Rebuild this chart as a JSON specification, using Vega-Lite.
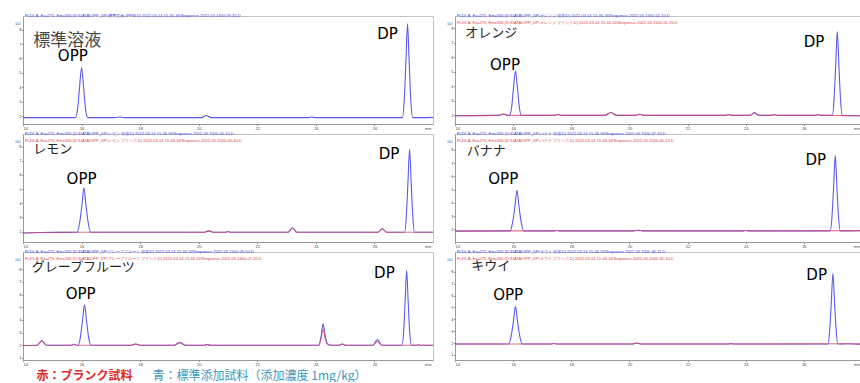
{
"$schema": "https://vega.github.io/schema/vega-lite/v6.json",
"padding": {"left": 14, "top": 13, "right": 0, "bottom": 0},
"background": "white",
"spacing": 0,
"datasets": {
"trace": [
{"p":1,"s":"b","t":14,"v":1.9},{"p":1,"s":"b","t":15.79,"v":1.9},{"p":1,"s":"b","t":15.87,"v":2.59},{"p":1,"s":"b","t":15.93,"v":3.98},{"p":1,"s":"b","t":16.0,"v":5.37},{"p":1,"s":"b","t":16.07,"v":3.98},{"p":1,"s":"b","t":16.13,"v":2.59},{"p":1,"s":"b","t":16.21,"v":1.9},{"p":1,"s":"b","t":17.15,"v":1.9},{"p":1,"s":"b","t":17.3,"v":1.95},{"p":1,"s":"b","t":17.45,"v":1.9},{"p":1,"s":"b","t":20.1,"v":1.9},{"p":1,"s":"b","t":20.26,"v":2.05},{"p":1,"s":"b","t":20.42,"v":1.9},{"p":1,"s":"b","t":23.7,"v":1.9},{"p":1,"s":"b","t":23.85,"v":1.94},{"p":1,"s":"b","t":24.0,"v":1.9},{"p":1,"s":"b","t":26.96,"v":1.9},{"p":1,"s":"b","t":27.02,"v":3.2},{"p":1,"s":"b","t":27.075,"v":5.8},{"p":1,"s":"b","t":27.13,"v":8.4},{"p":1,"s":"b","t":27.185,"v":5.8},{"p":1,"s":"b","t":27.24,"v":3.2},{"p":1,"s":"b","t":27.3,"v":1.9},{"p":1,"s":"b","t":28,"v":1.92},

{"p":2,"s":"b","t":14,"v":1.98},{"p":2,"s":"b","t":15.5,"v":2.0},{"p":2,"s":"b","t":15.68,"v":2.1},{"p":2,"s":"b","t":15.82,"v":2.0},{"p":2,"s":"b","t":15.87,"v":2.0},{"p":2,"s":"b","t":15.95,"v":2.6},{"p":2,"s":"b","t":16.01,"v":3.85},{"p":2,"s":"b","t":16.08,"v":5.07},{"p":2,"s":"b","t":16.15,"v":3.85},{"p":2,"s":"b","t":16.21,"v":2.6},{"p":2,"s":"b","t":16.29,"v":2.0},{"p":2,"s":"b","t":17.4,"v":2.0},{"p":2,"s":"b","t":17.54,"v":2.06},{"p":2,"s":"b","t":17.68,"v":2.0},{"p":2,"s":"b","t":19.15,"v":2.0},{"p":2,"s":"b","t":19.36,"v":2.2},{"p":2,"s":"b","t":19.57,"v":2.0},{"p":2,"s":"b","t":20.2,"v":2.0},{"p":2,"s":"b","t":20.35,"v":2.08},{"p":2,"s":"b","t":20.5,"v":2.0},{"p":2,"s":"b","t":23.3,"v":2.0},{"p":2,"s":"b","t":23.4,"v":2.05},{"p":2,"s":"b","t":23.5,"v":2.0},{"p":2,"s":"b","t":24.15,"v":2.0},{"p":2,"s":"b","t":24.3,"v":2.18},{"p":2,"s":"b","t":24.45,"v":2.0},{"p":2,"s":"b","t":24.88,"v":2.0},{"p":2,"s":"b","t":24.97,"v":2.05},{"p":2,"s":"b","t":25.06,"v":2.0},{"p":2,"s":"b","t":26.4,"v":2.0},{"p":2,"s":"b","t":26.5,"v":2.05},{"p":2,"s":"b","t":26.6,"v":2.0},{"p":2,"s":"b","t":26.98,"v":2.0},{"p":2,"s":"b","t":27.04,"v":3.15},{"p":2,"s":"b","t":27.095,"v":5.45},{"p":2,"s":"b","t":27.15,"v":7.75},{"p":2,"s":"b","t":27.205,"v":5.45},{"p":2,"s":"b","t":27.26,"v":3.15},{"p":2,"s":"b","t":27.32,"v":2.0},{"p":2,"s":"b","t":28,"v":1.98},
{"p":2,"s":"r","t":14,"v":1.98},{"p":2,"s":"r","t":15.5,"v":2.0},{"p":2,"s":"r","t":15.68,"v":2.1},{"p":2,"s":"r","t":15.82,"v":2.0},{"p":2,"s":"r","t":17.4,"v":2.0},{"p":2,"s":"r","t":17.54,"v":2.06},{"p":2,"s":"r","t":17.68,"v":2.0},{"p":2,"s":"r","t":19.15,"v":2.0},{"p":2,"s":"r","t":19.36,"v":2.2},{"p":2,"s":"r","t":19.57,"v":2.0},{"p":2,"s":"r","t":20.2,"v":2.0},{"p":2,"s":"r","t":20.35,"v":2.08},{"p":2,"s":"r","t":20.5,"v":2.0},{"p":2,"s":"r","t":23.3,"v":2.0},{"p":2,"s":"r","t":23.4,"v":2.05},{"p":2,"s":"r","t":23.5,"v":2.0},{"p":2,"s":"r","t":24.15,"v":2.0},{"p":2,"s":"r","t":24.3,"v":2.18},{"p":2,"s":"r","t":24.45,"v":2.0},{"p":2,"s":"r","t":24.88,"v":2.0},{"p":2,"s":"r","t":24.97,"v":2.05},{"p":2,"s":"r","t":25.06,"v":2.0},{"p":2,"s":"r","t":26.4,"v":2.0},{"p":2,"s":"r","t":26.5,"v":2.05},{"p":2,"s":"r","t":26.6,"v":2.0},{"p":2,"s":"r","t":28,"v":1.98},

{"p":3,"s":"b","t":14,"v":1.9},{"p":3,"s":"b","t":14.6,"v":1.93},{"p":3,"s":"b","t":15.85,"v":1.95},{"p":3,"s":"b","t":15.93,"v":2.58},{"p":3,"s":"b","t":16.01,"v":3.83},{"p":3,"s":"b","t":16.08,"v":5.09},{"p":3,"s":"b","t":16.15,"v":3.83},{"p":3,"s":"b","t":16.23,"v":2.58},{"p":3,"s":"b","t":16.31,"v":1.95},{"p":3,"s":"b","t":20.2,"v":1.95},{"p":3,"s":"b","t":20.34,"v":2.05},{"p":3,"s":"b","t":20.48,"v":1.95},{"p":3,"s":"b","t":20.9,"v":1.95},{"p":3,"s":"b","t":21.0,"v":2.0},{"p":3,"s":"b","t":21.1,"v":1.95},{"p":3,"s":"b","t":23.05,"v":1.95},{"p":3,"s":"b","t":23.2,"v":2.27},{"p":3,"s":"b","t":23.35,"v":1.95},{"p":3,"s":"b","t":26.12,"v":1.95},{"p":3,"s":"b","t":26.27,"v":2.2},{"p":3,"s":"b","t":26.42,"v":1.95},{"p":3,"s":"b","t":27.03,"v":1.95},{"p":3,"s":"b","t":27.09,"v":3.12},{"p":3,"s":"b","t":27.145,"v":5.47},{"p":3,"s":"b","t":27.2,"v":7.82},{"p":3,"s":"b","t":27.255,"v":5.47},{"p":3,"s":"b","t":27.31,"v":3.12},{"p":3,"s":"b","t":27.37,"v":1.95},{"p":3,"s":"b","t":28,"v":1.95},
{"p":3,"s":"r","t":14,"v":1.9},{"p":3,"s":"r","t":14.6,"v":1.93},{"p":3,"s":"r","t":15.85,"v":1.95},{"p":3,"s":"r","t":20.2,"v":1.95},{"p":3,"s":"r","t":20.34,"v":2.05},{"p":3,"s":"r","t":20.48,"v":1.95},{"p":3,"s":"r","t":20.9,"v":1.95},{"p":3,"s":"r","t":21.0,"v":2.0},{"p":3,"s":"r","t":21.1,"v":1.95},{"p":3,"s":"r","t":23.05,"v":1.95},{"p":3,"s":"r","t":23.2,"v":2.27},{"p":3,"s":"r","t":23.35,"v":1.95},{"p":3,"s":"r","t":26.12,"v":1.95},{"p":3,"s":"r","t":26.27,"v":2.2},{"p":3,"s":"r","t":26.42,"v":1.95},{"p":3,"s":"r","t":28,"v":1.95},

{"p":4,"s":"b","t":14,"v":1.86},{"p":4,"s":"b","t":15.9,"v":1.88},{"p":4,"s":"b","t":15.98,"v":2.5},{"p":4,"s":"b","t":16.06,"v":3.72},{"p":4,"s":"b","t":16.13,"v":4.95},{"p":4,"s":"b","t":16.2,"v":3.72},{"p":4,"s":"b","t":16.28,"v":2.5},{"p":4,"s":"b","t":16.36,"v":1.88},{"p":4,"s":"b","t":17.4,"v":1.88},{"p":4,"s":"b","t":17.5,"v":1.91},{"p":4,"s":"b","t":17.6,"v":1.88},{"p":4,"s":"b","t":20.15,"v":1.88},{"p":4,"s":"b","t":20.3,"v":1.93},{"p":4,"s":"b","t":20.45,"v":1.88},{"p":4,"s":"b","t":23.9,"v":1.88},{"p":4,"s":"b","t":24.0,"v":1.91},{"p":4,"s":"b","t":24.1,"v":1.88},{"p":4,"s":"b","t":26.91,"v":1.88},{"p":4,"s":"b","t":26.97,"v":3.02},{"p":4,"s":"b","t":27.025,"v":5.29},{"p":4,"s":"b","t":27.08,"v":7.56},{"p":4,"s":"b","t":27.135,"v":5.29},{"p":4,"s":"b","t":27.19,"v":3.02},{"p":4,"s":"b","t":27.25,"v":1.88},{"p":4,"s":"b","t":28,"v":1.9},
{"p":4,"s":"r","t":14,"v":1.86},{"p":4,"s":"r","t":15.9,"v":1.88},{"p":4,"s":"r","t":17.4,"v":1.88},{"p":4,"s":"r","t":17.5,"v":1.91},{"p":4,"s":"r","t":17.6,"v":1.88},{"p":4,"s":"r","t":20.15,"v":1.88},{"p":4,"s":"r","t":20.3,"v":1.93},{"p":4,"s":"r","t":20.45,"v":1.88},{"p":4,"s":"r","t":23.9,"v":1.88},{"p":4,"s":"r","t":24.0,"v":1.91},{"p":4,"s":"r","t":24.1,"v":1.88},{"p":4,"s":"r","t":28,"v":1.9},

{"p":5,"s":"b","t":14,"v":1.98},{"p":5,"s":"b","t":14.49,"v":2.0},{"p":5,"s":"b","t":14.64,"v":2.35},{"p":5,"s":"b","t":14.8,"v":2.0},{"p":5,"s":"b","t":15.65,"v":2.0},{"p":5,"s":"b","t":15.74,"v":2.07},{"p":5,"s":"b","t":15.82,"v":2.0},{"p":5,"s":"b","t":15.88,"v":2.0},{"p":5,"s":"b","t":15.96,"v":2.64},{"p":5,"s":"b","t":16.03,"v":3.91},{"p":5,"s":"b","t":16.1,"v":5.19},{"p":5,"s":"b","t":16.17,"v":3.91},{"p":5,"s":"b","t":16.24,"v":2.64},{"p":5,"s":"b","t":16.32,"v":2.0},{"p":5,"s":"b","t":17.7,"v":2.0},{"p":5,"s":"b","t":17.85,"v":2.1},{"p":5,"s":"b","t":18.0,"v":2.0},{"p":5,"s":"b","t":19.15,"v":2.0},{"p":5,"s":"b","t":19.35,"v":2.2},{"p":5,"s":"b","t":19.55,"v":2.0},{"p":5,"s":"b","t":20.2,"v":2.0},{"p":5,"s":"b","t":20.3,"v":2.05},{"p":5,"s":"b","t":20.4,"v":2.0},{"p":5,"s":"b","t":24.1,"v":2.0},{"p":5,"s":"b","t":24.18,"v":2.7},{"p":5,"s":"b","t":24.25,"v":3.7},{"p":5,"s":"b","t":24.32,"v":2.7},{"p":5,"s":"b","t":24.4,"v":2.1},{"p":5,"s":"b","t":24.5,"v":2.0},{"p":5,"s":"b","t":24.8,"v":2.0},{"p":5,"s":"b","t":24.9,"v":2.1},{"p":5,"s":"b","t":25.0,"v":2.0},{"p":5,"s":"b","t":25.95,"v":2.0},{"p":5,"s":"b","t":26.1,"v":2.45},{"p":5,"s":"b","t":26.25,"v":2.0},{"p":5,"s":"b","t":26.94,"v":2.0},{"p":5,"s":"b","t":27.0,"v":3.18},{"p":5,"s":"b","t":27.05,"v":5.55},{"p":5,"s":"b","t":27.1,"v":7.92},{"p":5,"s":"b","t":27.15,"v":5.55},{"p":5,"s":"b","t":27.2,"v":3.18},{"p":5,"s":"b","t":27.26,"v":2.0},{"p":5,"s":"b","t":27.45,"v":2.0},{"p":5,"s":"b","t":27.5,"v":2.06},{"p":5,"s":"b","t":27.55,"v":2.0},{"p":5,"s":"b","t":28,"v":2.0},
{"p":5,"s":"r","t":14,"v":1.98},{"p":5,"s":"r","t":14.49,"v":2.0},{"p":5,"s":"r","t":14.64,"v":2.35},{"p":5,"s":"r","t":14.8,"v":2.0},{"p":5,"s":"r","t":15.65,"v":2.0},{"p":5,"s":"r","t":15.74,"v":2.07},{"p":5,"s":"r","t":15.82,"v":2.0},{"p":5,"s":"r","t":17.7,"v":2.0},{"p":5,"s":"r","t":17.85,"v":2.1},{"p":5,"s":"r","t":18.0,"v":2.0},{"p":5,"s":"r","t":19.15,"v":2.0},{"p":5,"s":"r","t":19.35,"v":2.2},{"p":5,"s":"r","t":19.55,"v":2.0},{"p":5,"s":"r","t":20.2,"v":2.0},{"p":5,"s":"r","t":20.3,"v":2.05},{"p":5,"s":"r","t":20.4,"v":2.0},{"p":5,"s":"r","t":24.1,"v":2.0},{"p":5,"s":"r","t":24.18,"v":2.55},{"p":5,"s":"r","t":24.25,"v":3.25},{"p":5,"s":"r","t":24.32,"v":2.5},{"p":5,"s":"r","t":24.4,"v":2.08},{"p":5,"s":"r","t":24.5,"v":2.0},{"p":5,"s":"r","t":24.8,"v":2.0},{"p":5,"s":"r","t":24.9,"v":2.1},{"p":5,"s":"r","t":25.0,"v":2.0},{"p":5,"s":"r","t":25.95,"v":2.0},{"p":5,"s":"r","t":26.1,"v":2.3},{"p":5,"s":"r","t":26.25,"v":2.0},{"p":5,"s":"r","t":27.45,"v":2.0},{"p":5,"s":"r","t":27.5,"v":2.06},{"p":5,"s":"r","t":27.55,"v":2.0},{"p":5,"s":"r","t":28,"v":2.0},

{"p":6,"s":"b","t":14,"v":1.92},{"p":6,"s":"b","t":15.85,"v":1.92},{"p":6,"s":"b","t":15.93,"v":2.56},{"p":6,"s":"b","t":16.01,"v":3.83},{"p":6,"s":"b","t":16.08,"v":5.1},{"p":6,"s":"b","t":16.15,"v":3.83},{"p":6,"s":"b","t":16.23,"v":2.56},{"p":6,"s":"b","t":16.31,"v":1.92},{"p":6,"s":"b","t":17.3,"v":1.92},{"p":6,"s":"b","t":17.4,"v":1.96},{"p":6,"s":"b","t":17.5,"v":1.92},{"p":6,"s":"b","t":20.1,"v":1.92},{"p":6,"s":"b","t":20.25,"v":2.0},{"p":6,"s":"b","t":20.4,"v":1.92},{"p":6,"s":"b","t":23.4,"v":1.92},{"p":6,"s":"b","t":23.5,"v":1.95},{"p":6,"s":"b","t":23.6,"v":1.92},{"p":6,"s":"b","t":26.83,"v":1.92},{"p":6,"s":"b","t":26.89,"v":3.11},{"p":6,"s":"b","t":26.945,"v":5.49},{"p":6,"s":"b","t":27.0,"v":7.87},{"p":6,"s":"b","t":27.055,"v":5.49},{"p":6,"s":"b","t":27.11,"v":3.11},{"p":6,"s":"b","t":27.17,"v":1.92},{"p":6,"s":"b","t":27.5,"v":1.94},{"p":6,"s":"b","t":28,"v":1.9},
{"p":6,"s":"r","t":14,"v":1.92},{"p":6,"s":"r","t":17.3,"v":1.92},{"p":6,"s":"r","t":17.4,"v":1.96},{"p":6,"s":"r","t":17.5,"v":1.92},{"p":6,"s":"r","t":20.1,"v":1.92},{"p":6,"s":"r","t":20.25,"v":2.0},{"p":6,"s":"r","t":20.4,"v":1.92},{"p":6,"s":"r","t":23.4,"v":1.92},{"p":6,"s":"r","t":23.5,"v":1.95},{"p":6,"s":"r","t":23.6,"v":1.92},{"p":6,"s":"r","t":27.5,"v":1.94},{"p":6,"s":"r","t":28,"v":1.9}
],
"ann": [
{"p":1,"k":"name","t":14.35,"v":7.2,"label":"標準溶液"},{"p":1,"k":"peak","t":15.7,"v":6.18,"label":"OPP"},{"p":1,"k":"peak","t":26.45,"v":7.66,"label":"DP"},
{"p":2,"k":"name","t":14.35,"v":7.69,"label":"オレンジ"},{"p":2,"k":"peak","t":15.72,"v":5.5,"label":"OPP"},{"p":2,"k":"peak","t":26.35,"v":7.03,"label":"DP"},
{"p":3,"k":"name","t":14.35,"v":7.86,"label":"レモン"},{"p":3,"k":"peak","t":16.0,"v":5.69,"label":"OPP"},{"p":3,"k":"peak","t":26.5,"v":7.48,"label":"DP"},
{"p":4,"k":"name","t":14.4,"v":7.9,"label":"バナナ"},{"p":4,"k":"peak","t":15.66,"v":5.79,"label":"OPP"},{"p":4,"k":"peak","t":26.41,"v":7.24,"label":"DP"},
{"p":5,"k":"name","t":14.3,"v":8.17,"label":"グレープフルーツ"},{"p":5,"k":"peak","t":15.97,"v":6.05,"label":"OPP"},{"p":5,"k":"peak","t":26.34,"v":7.67,"label":"DP"},
{"p":6,"k":"name","t":14.56,"v":8.53,"label":"キウイ"},{"p":6,"k":"peak","t":15.83,"v":6.02,"label":"OPP"},{"p":6,"k":"peak","t":26.44,"v":7.74,"label":"DP"}
],
"caption": [
{"part":"赤：ブランク試料","k":"red"},
{"part":"青：標準添加試料（添加濃度 1mg/kg）","k":"blue"}
]
},
"vconcat": [
{"spacing": 12, "hconcat": [
{"width": 410, "height": 108,
 "title": {"text": "FLD1 A, Ex=275, Em=330 (D:\\DATA\\OPP_DP\\標準溶液 1PPM.D)   2022-03-14 15-46-34\\Sequence-2022-03-1400-09-35.D", "subtitle": " "},
 "encoding": {
  "x": {"field": "t", "type": "quantitative", "scale": {"domain": [14, 28], "nice": false, "zero": false}, "axis": {"values": [14,16,18,20,22,24,26], "title": "min", "titleX": 408, "titleY": 2, "titleAlign": "right", "titleBaseline": "top"}},
  "y": {"field": "v", "type": "quantitative", "scale": {"domain": [1.46, 8.94], "nice": false, "zero": false}, "axis": {"values": [2,3,4,5,6,7,8], "title": "LU", "titleAngle": 0, "titleX": -3, "titleY": 7, "titleAlign": "right", "titleBaseline": "middle"}}
 },
 "layer": [
  {"data": {"name": "trace"}, "transform": [{"filter": "datum.p == 1 && datum.s == 'b'"}], "mark": {"type": "line", "interpolate": "monotone", "color": "#5a5af0", "strokeWidth": 1.1, "clip": true}},
  {"data": {"name": "ann"}, "transform": [{"filter": "datum.p == 1 && datum.k == 'name'"}], "mark": {"type": "text", "align": "left", "baseline": "middle", "font": "Noto Sans CJK JP", "fontSize": 17, "color": "#444"}, "encoding": {"text": {"field": "label"}}},
  {"data": {"name": "ann"}, "transform": [{"filter": "datum.p == 1 && datum.k == 'peak'"}], "mark": {"type": "text", "align": "center", "baseline": "middle", "font": "DejaVu Sans", "fontSize": 15, "color": "#000"}, "encoding": {"text": {"field": "label"}}}
 ]
},
{"width": 407, "height": 108,
 "title": {"text": "FLD1 A, Ex=275, Em=330 (D:\\DATA\\OPP_DP\\オレンジ 添加.D)   2022-03-14 15-46-34\\Sequence-2022-03-1500-02-10.D", "subtitle": "FLD1 A, Ex=275, Em=330 (D:\\DATA\\OPP_DP\\オレンジ ブランク.D)   2022-03-14 15-46-34\\Sequence-2022-03-1500-01-20.D"},
 "encoding": {
  "x": {"field": "t", "type": "quantitative", "scale": {"domain": [14, 28], "nice": false, "zero": false}, "axis": {"values": [14,16,18,20,22,24,26], "title": "min", "titleX": 405, "titleY": 2, "titleAlign": "right", "titleBaseline": "top"}},
  "y": {"field": "v", "type": "quantitative", "scale": {"domain": [1.41, 8.84], "nice": false, "zero": false}, "axis": {"values": [2,3,4,5,6,7,8], "title": "LU", "titleAngle": 0, "titleX": -3, "titleY": 7, "titleAlign": "right", "titleBaseline": "middle"}}
 },
 "layer": [
  {"data": {"name": "trace"}, "transform": [{"filter": "datum.p == 2 && datum.s == 'b'"}], "mark": {"type": "line", "interpolate": "monotone", "color": "#5a5af0", "strokeWidth": 1.1, "clip": true}},
  {"data": {"name": "trace"}, "transform": [{"filter": "datum.p == 2 && datum.s == 'r'"}], "mark": {"type": "line", "interpolate": "monotone", "color": "#e0486a", "strokeWidth": 1.1, "opacity": 0.75, "clip": true}},
  {"data": {"name": "ann"}, "transform": [{"filter": "datum.p == 2 && datum.k == 'name'"}], "mark": {"type": "text", "align": "left", "baseline": "middle", "font": "Noto Sans CJK JP", "fontSize": 13, "color": "#222"}, "encoding": {"text": {"field": "label"}}},
  {"data": {"name": "ann"}, "transform": [{"filter": "datum.p == 2 && datum.k == 'peak'"}], "mark": {"type": "text", "align": "center", "baseline": "middle", "font": "DejaVu Sans", "fontSize": 15, "color": "#000"}, "encoding": {"text": {"field": "label"}}}
 ]
}
]},
{"spacing": 12, "hconcat": [
{"width": 410, "height": 108,
 "title": {"text": "FLD1 A, Ex=275, Em=330 (D:\\DATA\\OPP_DP\\レモン 添加.D)   2022-03-14 15-46-34\\Sequence-2022-03-1500-04-10.D", "subtitle": "FLD1 A, Ex=275, Em=330 (D:\\DATA\\OPP_DP\\レモン ブランク.D)   2022-03-14 15-46-34\\Sequence-2022-03-1500-03-40.D"},
 "encoding": {
  "x": {"field": "t", "type": "quantitative", "scale": {"domain": [14, 28], "nice": false, "zero": false}, "axis": {"values": [14,16,18,20,22,24,26], "title": "min", "titleX": 408, "titleY": 2, "titleAlign": "right", "titleBaseline": "top"}},
  "y": {"field": "v", "type": "quantitative", "scale": {"domain": [1.26, 8.9], "nice": false, "zero": false}, "axis": {"values": [2,3,4,5,6,7,8], "title": "LU", "titleAngle": 0, "titleX": -3, "titleY": 7, "titleAlign": "right", "titleBaseline": "middle"}}
 },
 "layer": [
  {"data": {"name": "trace"}, "transform": [{"filter": "datum.p == 3 && datum.s == 'b'"}], "mark": {"type": "line", "interpolate": "monotone", "color": "#5a5af0", "strokeWidth": 1.1, "clip": true}},
  {"data": {"name": "trace"}, "transform": [{"filter": "datum.p == 3 && datum.s == 'r'"}], "mark": {"type": "line", "interpolate": "monotone", "color": "#e0486a", "strokeWidth": 1.1, "opacity": 0.75, "clip": true}},
  {"data": {"name": "ann"}, "transform": [{"filter": "datum.p == 3 && datum.k == 'name'"}], "mark": {"type": "text", "align": "left", "baseline": "middle", "font": "Noto Sans CJK JP", "fontSize": 13, "color": "#222"}, "encoding": {"text": {"field": "label"}}},
  {"data": {"name": "ann"}, "transform": [{"filter": "datum.p == 3 && datum.k == 'peak'"}], "mark": {"type": "text", "align": "center", "baseline": "middle", "font": "DejaVu Sans", "fontSize": 15, "color": "#000"}, "encoding": {"text": {"field": "label"}}}
 ]
},
{"width": 407, "height": 108,
 "title": {"text": "FLD1 A, Ex=275, Em=330 (D:\\DATA\\OPP_DP\\バナナ 添加.D)   2022-03-14 15-46-34\\Sequence-2022-03-1500-07-34.D", "subtitle": "FLD1 A, Ex=275, Em=330 (D:\\DATA\\OPP_DP\\バナナ ブランク.D)   2022-03-14 15-46-34\\Sequence-2022-03-1500-06-12.D"},
 "encoding": {
  "x": {"field": "t", "type": "quantitative", "scale": {"domain": [14, 28], "nice": false, "zero": false}, "axis": {"values": [14,16,18,20,22,24,26], "title": "min", "titleX": 405, "titleY": 2, "titleAlign": "right", "titleBaseline": "top"}},
  "y": {"field": "v", "type": "quantitative", "scale": {"domain": [1.04, 9.19], "nice": false, "zero": false}, "axis": {"values": [2,3,4,5,6,7,8], "title": "LU", "titleAngle": 0, "titleX": -3, "titleY": 7, "titleAlign": "right", "titleBaseline": "middle"}}
 },
 "layer": [
  {"data": {"name": "trace"}, "transform": [{"filter": "datum.p == 4 && datum.s == 'b'"}], "mark": {"type": "line", "interpolate": "monotone", "color": "#5a5af0", "strokeWidth": 1.1, "clip": true}},
  {"data": {"name": "trace"}, "transform": [{"filter": "datum.p == 4 && datum.s == 'r'"}], "mark": {"type": "line", "interpolate": "monotone", "color": "#e0486a", "strokeWidth": 1.1, "opacity": 0.75, "clip": true}},
  {"data": {"name": "ann"}, "transform": [{"filter": "datum.p == 4 && datum.k == 'name'"}], "mark": {"type": "text", "align": "left", "baseline": "middle", "font": "Noto Sans CJK JP", "fontSize": 13, "color": "#222"}, "encoding": {"text": {"field": "label"}}},
  {"data": {"name": "ann"}, "transform": [{"filter": "datum.p == 4 && datum.k == 'peak'"}], "mark": {"type": "text", "align": "center", "baseline": "middle", "font": "DejaVu Sans", "fontSize": 15, "color": "#000"}, "encoding": {"text": {"field": "label"}}}
 ]
}
]},
{"spacing": 12, "hconcat": [
{"width": 410, "height": 108,
 "title": {"text": "FLD1 A, Ex=275, Em=330 (D:\\DATA\\OPP_DP\\グレープフルーツ 添加.D)   2022-03-14 15-46-34\\Sequence-2022-03-1500-09-50.D", "subtitle": "FLD1 A, Ex=275, Em=330 (D:\\DATA\\OPP_DP\\グレープフルーツ ブランク.D)   2022-03-14 15-46-34\\Sequence-2022-03-1400-07-20.D"},
 "encoding": {
  "x": {"field": "t", "type": "quantitative", "scale": {"domain": [14, 28], "nice": false, "zero": false}, "axis": {"values": [14,16,18,20,22,24,26], "title": "min", "titleX": 408, "titleY": 2, "titleAlign": "right", "titleBaseline": "top"}},
  "y": {"field": "v", "type": "quantitative", "scale": {"domain": [0.83, 9.37], "nice": false, "zero": false}, "axis": {"values": [1,2,3,4,5,6,7,8], "title": "LU", "titleAngle": 0, "titleX": -3, "titleY": 7, "titleAlign": "right", "titleBaseline": "middle"}}
 },
 "layer": [
  {"data": {"name": "trace"}, "transform": [{"filter": "datum.p == 5 && datum.s == 'b'"}], "mark": {"type": "line", "interpolate": "monotone", "color": "#5a5af0", "strokeWidth": 1.1, "clip": true}},
  {"data": {"name": "trace"}, "transform": [{"filter": "datum.p == 5 && datum.s == 'r'"}], "mark": {"type": "line", "interpolate": "monotone", "color": "#e0486a", "strokeWidth": 1.1, "opacity": 0.75, "clip": true}},
  {"data": {"name": "ann"}, "transform": [{"filter": "datum.p == 5 && datum.k == 'name'"}], "mark": {"type": "text", "align": "left", "baseline": "middle", "font": "Noto Sans CJK JP", "fontSize": 13, "color": "#222"}, "encoding": {"text": {"field": "label"}}},
  {"data": {"name": "ann"}, "transform": [{"filter": "datum.p == 5 && datum.k == 'peak'"}], "mark": {"type": "text", "align": "center", "baseline": "middle", "font": "DejaVu Sans", "fontSize": 15, "color": "#000"}, "encoding": {"text": {"field": "label"}}}
 ]
},
{"width": 407, "height": 108,
 "title": {"text": "FLD1 A, Ex=275, Em=330 (D:\\DATA\\OPP_DP\\キウイ 添加.D)   2022-03-14 15-46-34\\Sequence-2022-03-1500-46-11.D", "subtitle": "FLD1 A, Ex=275, Em=330 (D:\\DATA\\OPP_DP\\キウイ ブランク.D)   2022-03-14 15-46-34\\Sequence-2022-03-1500-45-10.D"},
 "encoding": {
  "x": {"field": "t", "type": "quantitative", "scale": {"domain": [14, 28], "nice": false, "zero": false}, "axis": {"values": [14,16,18,20,22,24,26], "title": "min", "titleX": 405, "titleY": 2, "titleAlign": "right", "titleBaseline": "top"}},
  "y": {"field": "v", "type": "quantitative", "scale": {"domain": [0.57, 9.68], "nice": false, "zero": false}, "axis": {"values": [1,2,3,4,5,6,7,8], "title": "LU", "titleAngle": 0, "titleX": -3, "titleY": 7, "titleAlign": "right", "titleBaseline": "middle"}}
 },
 "layer": [
  {"data": {"name": "trace"}, "transform": [{"filter": "datum.p == 6 && datum.s == 'b'"}], "mark": {"type": "line", "interpolate": "monotone", "color": "#5a5af0", "strokeWidth": 1.1, "clip": true}},
  {"data": {"name": "trace"}, "transform": [{"filter": "datum.p == 6 && datum.s == 'r'"}], "mark": {"type": "line", "interpolate": "monotone", "color": "#e0486a", "strokeWidth": 1.1, "opacity": 0.75, "clip": true}},
  {"data": {"name": "ann"}, "transform": [{"filter": "datum.p == 6 && datum.k == 'name'"}], "mark": {"type": "text", "align": "left", "baseline": "middle", "font": "Noto Sans CJK JP", "fontSize": 13, "color": "#222"}, "encoding": {"text": {"field": "label"}}},
  {"data": {"name": "ann"}, "transform": [{"filter": "datum.p == 6 && datum.k == 'peak'"}], "mark": {"type": "text", "align": "center", "baseline": "middle", "font": "DejaVu Sans", "fontSize": 15, "color": "#000"}, "encoding": {"text": {"field": "label"}}}
 ]
}
]},
{"width": 350, "height": 12, "view": {"stroke": null},
 "data": {"name": "caption"},
 "encoding": {
  "x": {"field": "part", "type": "nominal", "scale": {"domain": ["赤：ブランク試料", "青：標準添加試料（添加濃度 1mg/kg）"], "paddingInner": 0, "paddingOuter": 0}, "axis": null}
 },
 "layer": [
  {"transform": [{"filter": "datum.k == 'red'"}], "mark": {"type": "text", "align": "center", "baseline": "middle", "dx": -26, "dy": 3, "font": "Noto Sans CJK JP", "fontSize": 12, "fontWeight": "bold", "color": "#e02828"}, "encoding": {"text": {"field": "part"}}},
  {"transform": [{"filter": "datum.k == 'blue'"}], "mark": {"type": "text", "align": "center", "baseline": "middle", "dx": -26, "dy": 3, "font": "Noto Sans CJK JP", "fontSize": 12, "color": "#3a98bf"}, "encoding": {"text": {"field": "part"}}}
 ]
}
],
"config": {
 "view": {"stroke": "#c4c4c4"},
 "axis": {"labelFontSize": 4, "labelFont": "Liberation Sans", "labelColor": "#444", "tickSize": 1.5, "tickColor": "#888", "domainColor": "#999", "labelPadding": 0.5, "grid": false, "titleFontSize": 4, "titleFont": "Liberation Sans", "titleFontWeight": "normal", "titleColor": "#444", "titlePadding": 0},
 "title": {"fontSize": 4, "subtitleFontSize": 4, "font": "Liberation Sans", "subtitleFont": "Liberation Sans", "color": "#3a3ae8", "subtitleColor": "#e03a3a", "anchor": "start", "frame": "group", "dx": 2, "offset": -9, "subtitlePadding": 0, "fontWeight": "normal"}
}
}
